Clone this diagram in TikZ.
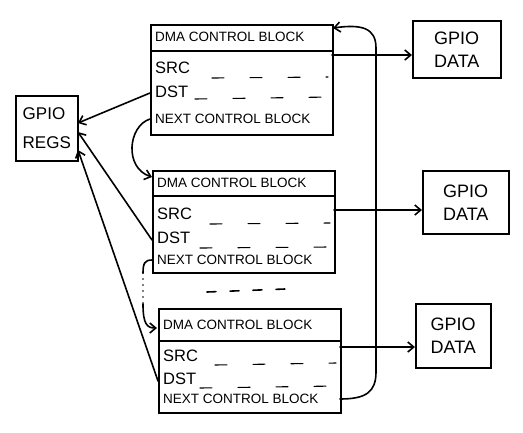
\documentclass[tikz,border=0pt]{standalone}
\usepackage{fontspec}
\setmainfont{Liberation Sans}
\usetikzlibrary{arrows.meta}
\begin{document}
\begin{tikzpicture}[x=1pt,y=-1pt,
  ln/.style={line width=1.6pt, line cap=round},
  boxs/.style={draw, ln, inner sep=0pt, anchor=north west},
  lbl/.style={inner sep=0pt, anchor=west, font=\fontsize{13.5}{16}\selectfont},
  fld/.style={inner sep=0pt, anchor=west, font=\fontsize{16.5}{18}\selectfont},
  gtxt/.style={align=left, font=\fontsize{18}{23}\selectfont},
  rtxt/.style={align=left, font=\fontsize{17}{29}\selectfont},
  arr/.style={ln, -{Straight Barb[length=6pt,width=10pt,line width=1.6pt]}},
  sep/.style={line width=1.1pt, line cap=round, dash pattern=on 12pt off 26pt},
]
\useasboundingbox (0,0) rectangle (523,432);

% ---------- block 1 ----------
\node[boxs, minimum width=182pt, minimum height=26pt] (b1h) at (150,24) {};
\node[boxs, minimum width=182pt, minimum height=84pt] (b1b) at (150,50) {};
\node[lbl] (b1t) at (155,37) {DMA CONTROL BLOCK};
\node[fld] (b1s) at (155,68) {SRC};
\node[fld] (b1d) at (155,92) {DST};
\node[lbl] (b1n) at (155,119) {NEXT CONTROL BLOCK};
\draw[sep] (212,78) -- (328,77);
\draw[sep] (195,99) -- (330,97);

% ---------- block 2 ----------
\node[boxs, minimum width=182pt, minimum height=25pt] (b2h) at (152,170) {};
\node[boxs, minimum width=182pt, minimum height=77pt] (b2b) at (152,195) {};
\node[lbl] (b2t) at (157,183) {DMA CONTROL BLOCK};
\node[fld] (b2s) at (157,214) {SRC};
\node[fld] (b2d) at (157,238) {DST};
\node[lbl] (b2t2) at (157,260) {NEXT CONTROL BLOCK};
\draw[sep] (210,224) -- (330,223);
\draw[sep] (200,248) -- (330,247);

% ---------- block 3 ----------
\node[boxs, minimum width=182pt, minimum height=32pt] (b3h) at (158,308) {};
\node[boxs, minimum width=182pt, minimum height=72pt] (b3b) at (158,340) {};
\node[lbl] (b3t) at (163,325) {DMA CONTROL BLOCK};
\node[fld] (b3s) at (163,356) {SRC};
\node[fld] (b3d) at (163,379) {DST};
\node[lbl] (b3n) at (163,399) {NEXT CONTROL BLOCK};
\draw[sep] (215,365) -- (336,363);
\draw[sep] (200,388) -- (336,386);

% continuation dashes
\draw[ln, dash pattern=on 9pt off 14pt] (207,292) -- (285,289);

% ---------- GPIO boxes ----------
\node[boxs, minimum width=62pt, minimum height=65pt, rtxt] (regs) at (15,95) {GPIO\\REGS};
\node[boxs, minimum width=88pt, minimum height=57pt, gtxt] (d1) at (412,20) {GPIO\\DATA};
\node[boxs, minimum width=86pt, minimum height=63pt, gtxt] (d2) at (422,170) {GPIO\\DATA};
\node[boxs, minimum width=75pt, minimum height=64pt, gtxt] (d3) at (415,303) {GPIO\\DATA};

% ---------- connector end points ----------
\coordinate (s1) at (332,55);
\coordinate (s2) at (334,210);
\coordinate (s3) at (340,347);
\coordinate (t1) at (150,93);
\coordinate (t2) at (152,240);
\coordinate (t3) at (158,381);
\coordinate (r1) at (78,123);
\coordinate (r2) at (78,132);
\coordinate (r3) at (78,150);
\coordinate (n1) at (150,119);
\coordinate (h2) at (152,177);
\coordinate (n2) at (152,260);
\coordinate (k1) at (143,273);
\coordinate (k2) at (143,304);
\coordinate (h3) at (157,328);
\coordinate (n3) at (340,399);
\coordinate (h1) at (333,28);

% SRC -> GPIO DATA
\draw[arr] (s1) -- (s1 -| d1.west);
\draw[arr] (s2) -- (s2 -| d2.west);
\draw[arr] (s3) -- (s3 -| d3.west);

% DST -> GPIO REGS
\draw[arr] (t1) -- (r1);
\draw[arr] (t2) -- (r2);
\draw[arr] (t3) -- (r3);

% NEXT -> next block
\draw[arr] (n1) .. controls (128,126) and (124,168) .. (h2);
\draw[ln] (n2) .. controls (145,260) and (143,263) .. (k1);
\draw[ln, dash pattern=on 0pt off 6pt] (k1) -- (k2);
\draw[arr] (k2) .. controls (143,324) and (147,328) .. (h3);

% last block loops back to first
\draw[arr] (n3) .. controls (366,399) and (376,392) .. (376,372)
  -- (376,48) .. controls (376,28) and (362,24) .. (h1);
\end{tikzpicture}
\end{document}
